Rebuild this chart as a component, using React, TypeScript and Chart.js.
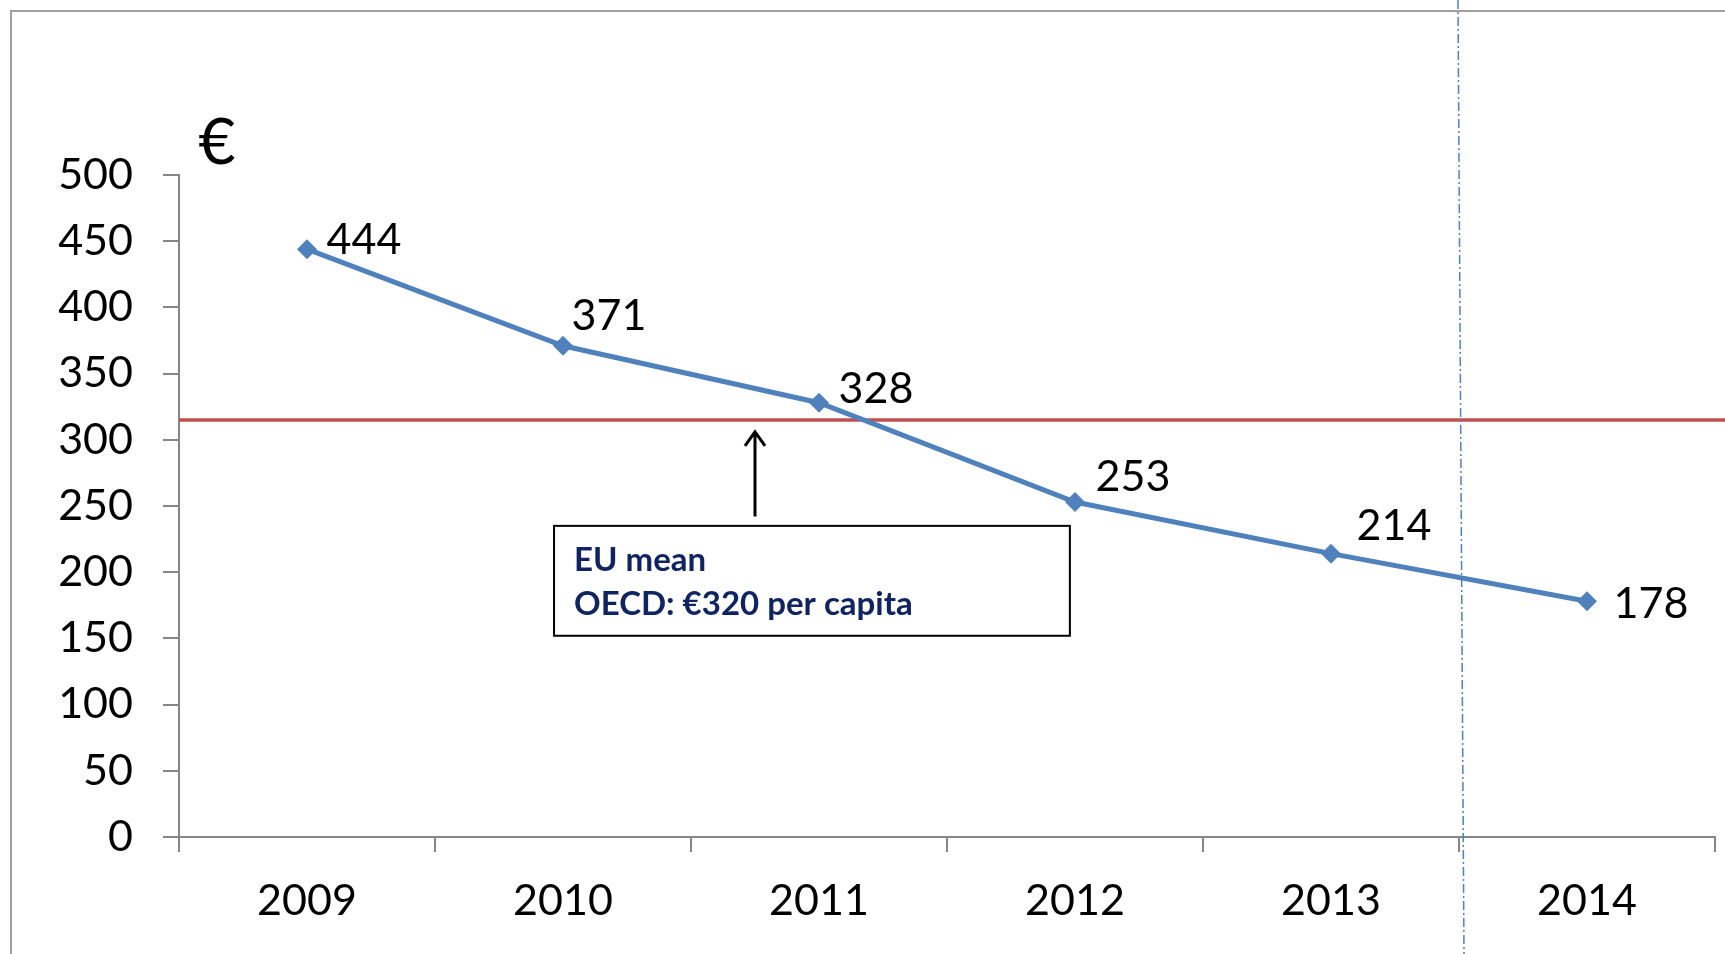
import { useEffect, useRef } from "react";
import { Chart, registerables } from "chart.js";

Chart.register(...registerables);

const years = ["2009", "2010", "2011", "2012", "2013", "2014"];
const spending = [444, 371, 328, 253, 214, 178];
const euMean = 315;
const yMin = 0;
const yMax = 500;
const yStep = 50;
const unitLabel = "€";
const noteLines = ["EU mean", "OECD: €320 per capita"];
const labelDx = [57, 46, 57, 58, 63, 64];
const labelDy = [-9, -30, -14, -25, -28, 3];

const FONT = "Lato, 'Open Sans', sans-serif";
const GREY = "#868686";

const decorPlugin = {
  id: "decor",
  beforeDraw(chart: any) {
    const ctx = chart.ctx;
    ctx.save();
    ctx.strokeStyle = "#a0a0a0";
    ctx.lineWidth = 2;
    ctx.beginPath();
    ctx.moveTo(11, chart.height + 5);
    ctx.lineTo(11, 11);
    ctx.lineTo(chart.width + 5, 11);
    ctx.stroke();
    ctx.restore();
  },
  beforeDatasetsDraw(chart: any) {
    const { ctx, chartArea } = chart;
    const y = chart.scales.y.getPixelForValue(euMean);
    ctx.save();
    ctx.strokeStyle = "#c0504d";
    ctx.lineWidth = 3.5;
    ctx.beginPath();
    ctx.moveTo(chartArea.left, y);
    ctx.lineTo(chartArea.right + 12, y);
    ctx.stroke();
    ctx.restore();
  },
  afterDatasetsDraw(chart: any) {
    const { ctx, chartArea } = chart;
    const xs = chart.scales.x;
    const ys = chart.scales.y;
    const meta = chart.getDatasetMeta(0);

    // data labels
    ctx.save();
    ctx.fillStyle = "#000";
    ctx.font = `43px ${FONT}`;
    ctx.textAlign = "center";
    ctx.textBaseline = "middle";
    meta.data.forEach((pt: any, i: number) => {
      ctx.fillText(String(spending[i]), pt.x + labelDx[i], pt.y + labelDy[i]);
    });
    ctx.restore();

    // unit label
    ctx.save();
    ctx.fillStyle = "#000";
    ctx.font = `64px ${FONT}`;
    ctx.textAlign = "center";
    ctx.textBaseline = "middle";
    ctx.fillText(unitLabel, chartArea.left + 38, chartArea.top - 32);
    ctx.restore();

    // vertical dash-dot divider
    const vx = xs.getPixelForValue(4.5);
    ctx.save();
    ctx.strokeStyle = "#4f81bd";
    ctx.lineWidth = 1.5;
    ctx.setLineDash([9, 3, 2, 3]);
    ctx.beginPath();
    ctx.moveTo(vx - 1, 0);
    ctx.lineTo(vx + 5, chart.height);
    ctx.stroke();
    ctx.restore();

    // arrow
    const ax = xs.getPixelForValue(1.75);
    const aTop = ys.getPixelForValue(306);
    const aBot = ys.getPixelForValue(242);
    ctx.save();
    ctx.strokeStyle = "#000";
    ctx.lineWidth = 3;
    ctx.beginPath();
    ctx.moveTo(ax, aBot);
    ctx.lineTo(ax, aTop);
    ctx.moveTo(ax - 10, aTop + 14);
    ctx.lineTo(ax, aTop);
    ctx.lineTo(ax + 10, aTop + 14);
    ctx.stroke();
    ctx.restore();

    // note box
    const bx1 = xs.getPixelForValue(0.965);
    const bx2 = xs.getPixelForValue(2.98);
    const by1 = ys.getPixelForValue(235);
    const by2 = ys.getPixelForValue(152);
    ctx.save();
    ctx.fillStyle = "#fff";
    ctx.fillRect(bx1, by1, bx2 - bx1, by2 - by1);
    ctx.strokeStyle = "#000";
    ctx.lineWidth = 2;
    ctx.strokeRect(bx1, by1, bx2 - bx1, by2 - by1);
    ctx.fillStyle = "#0f2461";
    ctx.font = `bold 33px ${FONT}`;
    ctx.textAlign = "left";
    ctx.textBaseline = "middle";
    ctx.fillText(noteLines[0], bx1 + 20, by1 + 34);
    ctx.fillText(noteLines[1], bx1 + 20, by1 + 78);
    ctx.restore();
  },
};

export default function App() {
  const ref = useRef<HTMLCanvasElement>(null);
  useEffect(() => {
    document.body.style.margin = "0";
    const chart = new Chart(ref.current!, {
      type: "line",
      data: {
        labels: years,
        datasets: [
          {
            data: spending,
            borderColor: "#4f81bd",
            backgroundColor: "#4f81bd",
            borderWidth: 5,
            pointStyle: "rectRot",
            pointRadius: 10,
            pointBorderWidth: 0,
            tension: 0,
          },
        ],
      },
      options: {
        animation: false,
        responsive: false,
        layout: { padding: { top: 175, right: 10, left: 0, bottom: 0 } },
        plugins: { legend: { display: false }, tooltip: { enabled: false } },
        scales: {
          x: {
            offset: true,
            grid: {
              offset: true,
              drawOnChartArea: false,
              drawTicks: true,
              tickLength: 15,
              color: GREY,
              lineWidth: 2,
            },
            border: { display: true, color: GREY, width: 2 },
            ticks: { color: "#000", font: { size: 43, family: FONT }, padding: 23, maxRotation: 0 },
            afterFit: (s: any) => {
              s.height = 117;
            },
          },
          y: {
            min: yMin,
            max: yMax,
            grid: {
              drawOnChartArea: false,
              drawTicks: true,
              tickLength: 16,
              color: GREY,
              lineWidth: 2,
            },
            border: { display: true, color: GREY, width: 2 },
            ticks: { stepSize: yStep, color: "#000", font: { size: 43, family: FONT }, padding: 30 },
            afterFit: (s: any) => {
              s.width = 179;
            },
          },
        },
      },
      plugins: [decorPlugin],
    });
    return () => chart.destroy();
  }, []);
  return <canvas ref={ref} width={1725} height={954} style={{ display: "block" }} />;
}
